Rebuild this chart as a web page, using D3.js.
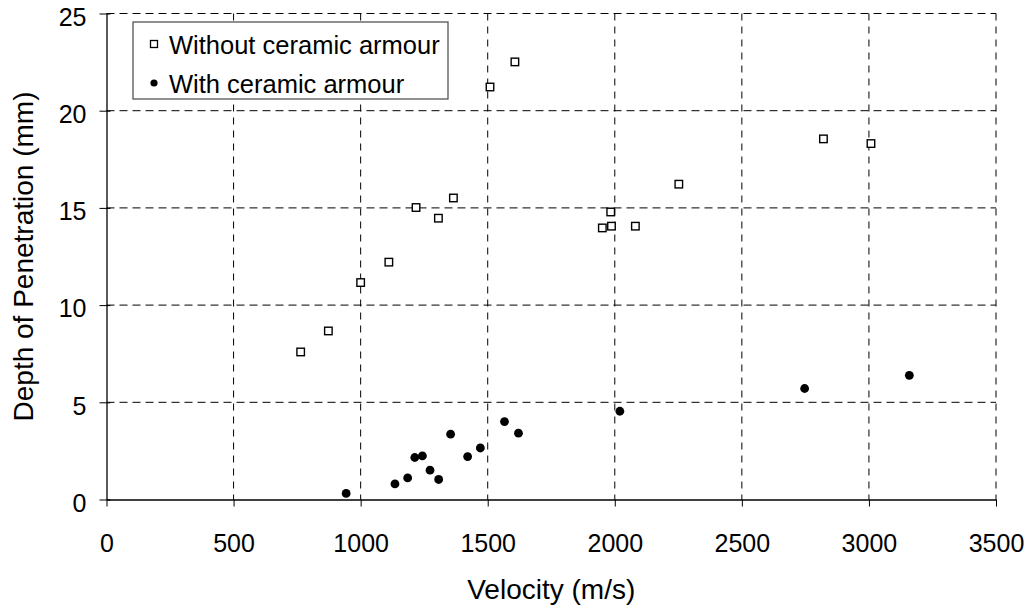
<!DOCTYPE html>
<html>
<head>
<meta charset="utf-8">
<script src="https://cdn.jsdelivr.net/npm/d3@7"></script>
<style>
  body { margin: 0; background: #fff; }
  #chart { width: 1031px; height: 615px; }
  text { font-family: 'Liberation Sans', Arial, sans-serif; fill: #000; }
</style>
</head>
<body>
<div id="chart"></div>
<script>

// velocity (m/s) and depth (mm)
var withoutVelocity = [764, 873, 1000, 1111, 1218, 1306, 1365, 1509, 1607, 1951, 1987, 1984, 2081, 2252, 2821, 3008];
var withoutDepth    = [7.59, 8.67, 11.16, 12.21, 15.02, 14.47, 15.51, 21.22, 22.51, 13.97, 14.06, 14.79, 14.06, 16.22, 18.55, 18.31];

var withVelocity = [943, 1135, 1185, 1213, 1243, 1273, 1307, 1354, 1421, 1471, 1566, 1621, 2020, 2747, 3159];
var withDepth    = [0.31, 0.80, 1.11, 2.16, 2.24, 1.51, 1.03, 3.36, 2.21, 2.65, 4.01, 3.41, 4.54, 5.71, 6.39];

var xTicks = [0, 500, 1000, 1500, 2000, 2500, 3000, 3500];
var yTicks = [0, 5, 10, 15, 20, 25];

var seriesNames = ['Without ceramic armour', 'With ceramic armour'];

var PenetrationChart = function () {

  var id;

  function init(options) {
    id = options.id;
    draw();
  }

  function draw() {

    var margin = { top: 13.5, right: 35, bottom: 115.5, left: 106.5 };

    var width = 1031 - margin.left - margin.right;
    var height = 615 - margin.top - margin.bottom;

    var svg = d3.select('#' + id)
      .append('svg')
        .attr('width', 1031)
        .attr('height', 615)
      .append('g')
        .attr('transform', 'translate(' + margin.left + ',' + margin.top + ')');

    var x = d3.scaleLinear()
      .range([0, width])
      .domain([0, 3500]);

    var y = d3.scaleLinear()
      .range([height, 0])
      .domain([0, 25]);

    // dashed grid
    svg.append('g')
      .selectAll('line')
        .data(xTicks.slice(1))
        .enter()
      .append('line')
        .attr('x1', function (d) { return x(d); })
        .attr('x2', function (d) { return x(d); })
        .attr('y1', 0)
        .attr('y2', height)
        .attr('stroke', '#000')
        .attr('stroke-dasharray', '7,6');

    svg.append('g')
      .selectAll('line')
        .data(yTicks.slice(1))
        .enter()
      .append('line')
        .attr('x1', 0)
        .attr('x2', width)
        .attr('y1', function (d) { return y(d); })
        .attr('y2', function (d) { return y(d); })
        .attr('stroke', '#000')
        .attr('stroke-dasharray', '8,5');

    // axes
    var xAxis = svg.append('g')
        .attr('transform', 'translate(0,' + height + ')')
        .call(d3.axisBottom(x)
          .tickValues(xTicks)
          .tickFormat(d3.format('d'))
          .tickSize(7)
          .tickSizeOuter(0));

    var yAxis = svg.append('g')
        .call(d3.axisLeft(y)
          .tickValues(yTicks)
          .tickFormat(d3.format('d'))
          .tickSize(7)
          .tickSizeOuter(0));

    [xAxis, yAxis].forEach(function (a) {
      a.select('.domain').attr('stroke', '#000').attr('stroke-width', 1.3);
      a.selectAll('.tick line').attr('stroke', '#000');
      a.selectAll('.tick text')
        .style('font-size', '25px')
        .style('font-family', "'Liberation Sans', Arial, sans-serif");
    });

    yAxis.selectAll('.tick line').attr('x1', 4);
    yAxis.selectAll('.tick text').attr('x', -20).attr('dy', '0.47em');
    xAxis.selectAll('.tick text').attr('y', 35).attr('dy', '0.71em');

    // points
    var without = withoutVelocity.map(function (v, i) { return [v, withoutDepth[i]]; });
    var withC = withVelocity.map(function (v, i) { return [v, withDepth[i]]; });

    svg.append('g')
      .selectAll('rect')
        .data(without)
        .enter()
      .append('rect')
        .attr('x', function (d) { return x(d[0]) - 3.75; })
        .attr('y', function (d) { return y(d[1]) - 3.75; })
        .attr('width', 7.5)
        .attr('height', 7.5)
        .attr('fill', '#fff')
        .attr('stroke', '#000')
        .attr('stroke-width', 1.4);

    svg.append('g')
      .selectAll('circle')
        .data(withC)
        .enter()
      .append('circle')
        .attr('cx', function (d) { return x(d[0]); })
        .attr('cy', function (d) { return y(d[1]); })
        .attr('r', 4.4)
        .attr('fill', '#000');

    // legend
    var legend = svg.append('g')
        .attr('transform', 'translate(' + (133 - margin.left) + ',' + (22 - margin.top) + ')');

    legend.append('rect')
        .attr('width', 315)
        .attr('height', 77)
        .attr('fill', '#fff')
        .attr('stroke', '#555')
        .attr('stroke-width', 1.3);

    legend.append('rect')
        .attr('x', 21 - 3.5)
        .attr('y', 22 - 3.5)
        .attr('width', 7)
        .attr('height', 7)
        .attr('fill', '#fff')
        .attr('stroke', '#000')
        .attr('stroke-width', 1.3);

    legend.append('circle')
        .attr('cx', 21)
        .attr('cy', 61)
        .attr('r', 3.6)
        .attr('fill', '#000');

    legend.selectAll('text')
        .data(seriesNames)
        .enter()
      .append('text')
        .attr('x', 36)
        .attr('y', function (d, i) { return 32 + i * 39; })
        .style('font-size', '25.5px')
        .text(function (d) { return d; });

    // axis titles
    svg.append('text')
        .attr('x', width / 2)
        .attr('y', 599 - margin.top)
        .attr('text-anchor', 'middle')
        .style('font-size', '28px')
        .text('Velocity (m/s)');

    svg.append('text')
        .attr('transform', 'translate(' + (33 - margin.left) + ',' + (height / 2) + ') rotate(-90)')
        .attr('text-anchor', 'middle')
        .style('font-size', '28px')
        .text('Depth of Penetration (mm)');
  }

  return {
    init: init,
    draw: draw
  };
};

var chart = PenetrationChart();
chart.init({ id: 'chart' });

</script>
</body>
</html>
